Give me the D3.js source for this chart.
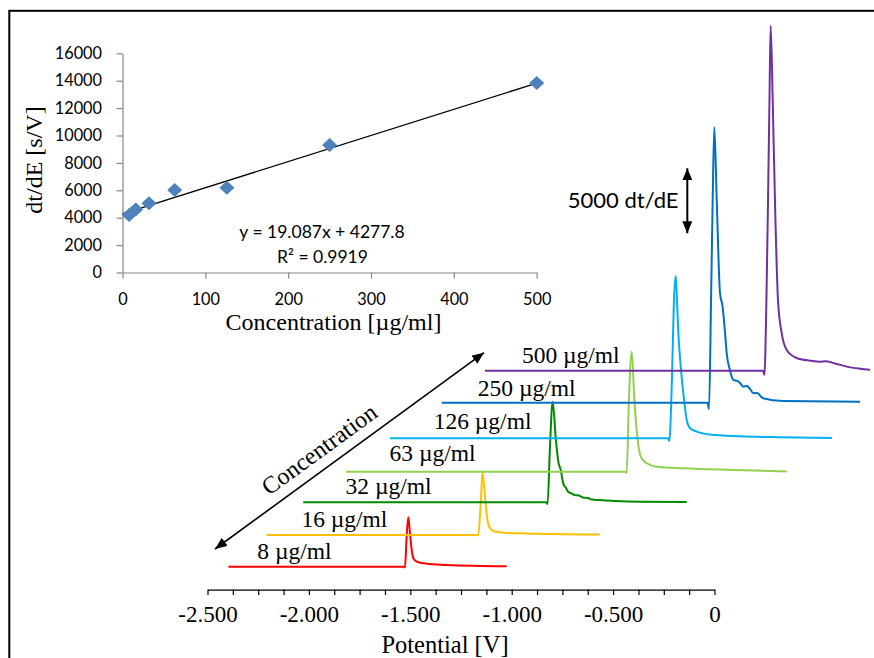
<!DOCTYPE html>
<html>
<head>
<meta charset="utf-8">
<script src="https://cdn.jsdelivr.net/npm/d3@7/dist/d3.min.js"></script>
<style>
  html, body { margin: 0; padding: 0; background: #fff; }
  svg { display: block; }
</style>
</head>
<body>
<svg id="chart" width="874" height="658"></svg>
<script>
// ---------------- DATA ----------------
// Inset: calibration
const concentrations = [8, 16, 32, 63, 126, 250, 500];
const calibValues = [4200, 4600, 5050, 6020, 6190, 9300, 13830];
const trendSlope = 19.087;
const trendIntercept = 4277.8;
const trendRange = [0, 500];
const insetXTicks = [0, 100, 200, 300, 400, 500];
const insetYTicks = [0, 2000, 4000, 6000, 8000, 10000, 12000, 14000, 16000];
const equationText = "y = 19.087x + 4277.8";
const r2Text = "R\u00B2 = 0.9919";

// Main: voltammograms (waterfall)
const traceNames = ["8 \u00B5g/ml", "16 \u00B5g/ml", "32 \u00B5g/ml", "63 \u00B5g/ml", "126 \u00B5g/ml", "250 \u00B5g/ml", "500 \u00B5g/ml"];
const traceColors = ["#FF0000", "#FFC000", "#008A00", "#92D050", "#00B0F0", "#0070C0", "#7030A0"];
// vertical waterfall offsets of each baseline, in dt/dE units
const traceOffsets = [0, 2440, 4950, 7310, 9880, 12620, 15080];
// [potential (V), dt/dE above own baseline]
const trace8 = [[-2.397,0],[-1.531,0],[-1.526,-60],[-1.519,2050],[-1.510,3800],[-1.503,2820],[-1.493,1285],[-1.485,646],[-1.468,385],[-1.436,260],[-1.320,130],[-1.025,30]];
const trace16 = [[-2.208,0],[-1.169,0],[-1.165,-50],[-1.152,2690],[-1.144,4820],[-1.133,3210],[-1.124,1670],[-1.111,640],[-1.091,310],[-1.042,180],[-0.926,115],[-0.565,40]];
const trace32 = [[-2.028,0],[-0.831,0],[-0.823,-130],[-0.812,4020],[-0.798,7740],[-0.782,4790],[-0.770,3120],[-0.758,2485],[-0.746,1460],[-0.732,1100],[-0.721,815],[-0.708,715],[-0.688,562],[-0.668,523],[-0.648,369],[-0.624,331],[-0.604,215],[-0.565,177],[-0.491,100],[-0.367,38],[-0.137,23]];
const trace63 = [[-1.817,0],[-0.441,0],[-0.433,-100],[-0.422,5515],[-0.408,9230],[-0.396,5770],[-0.384,3210],[-0.372,1670],[-0.359,1030],[-0.334,646],[-0.285,385],[-0.154,261],[0.093,131],[0.356,15]];
const trace126 = [[-1.600,0],[-0.229,0],[-0.223,-210],[-0.210,4485],[-0.200,10640],[-0.191,12485],[-0.185,10640],[-0.179,8330],[-0.165,5250],[-0.150,2950],[-0.137,1410],[-0.121,790],[-0.088,510],[-0.022,290],[0.126,155],[0.323,77],[0.579,23]];
const trace250 = [[-1.345,0],[-0.035,0],[-0.027,-485],[-0.017,7900],[-0.009,15590],[-0.001,21200],[0.011,15590],[0.027,8440],[0.040,7385],[0.052,5360],[0.060,3820],[0.076,2515],[0.093,1745],[0.111,1670],[0.126,1515],[0.141,1230],[0.160,1285],[0.175,1055],[0.191,725],[0.210,745],[0.239,340],[0.338,130],[0.718,77]];
const trace500 = [[-1.132,0],[0.239,0],[0.246,-330],[0.256,5440],[0.264,13130],[0.271,20820],[0.277,26540],[0.287,20820],[0.298,13130],[0.313,5440],[0.331,2900],[0.356,1590],[0.405,975],[0.471,770],[0.520,690],[0.545,720],[0.594,555],[0.652,310],[0.718,155],[0.767,77]];
const traceData = [trace8, trace16, trace32, trace63, trace126, trace250, trace500];

const potentialTickValues = d3.range(0, 21).map(i => -2.5 + i * 0.125);
const potentialLabelValues = [-2.5, -2.0, -1.5, -1.0, -0.5, 0];
const potentialLabels = ["-2.500", "-2.000", "-1.500", "-1.000", "-0.500", "0"];
const scaleBarValue = 5000;

// ---------------- DRAW ----------------
const svg = d3.select("#chart");
const SERIF = "'Liberation Serif', 'Times New Roman', serif";
const SANS = "Lato, 'Open Sans', sans-serif";

// outer frame
svg.append("rect").attr("x", 9.3).attr("y", 10.8).attr("width", 950).attr("height", 750)
  .attr("fill", "none").attr("stroke", "#000").attr("stroke-width", 2);

// ---- Inset ----
const ix = d3.scaleLinear().domain([0, 500]).range([122.5, 536.7]);
const iy = d3.scaleLinear().domain([0, 16000]).range([272.5, 53.3]);

const gx = svg.append("g").attr("transform", `translate(0,${iy(0)})`)
  .call(d3.axisBottom(ix).tickValues(insetXTicks).tickSize(6).tickSizeOuter(0).tickPadding(15).tickFormat(d3.format("d")));
const gy = svg.append("g").attr("transform", `translate(${ix(0)},0)`)
  .call(d3.axisLeft(iy).tickValues(insetYTicks).tickSize(6).tickSizeOuter(0).tickPadding(14.5).tickFormat(d3.format("d")));
[gx, gy].forEach(g => {
  g.select(".domain").attr("stroke", "#878787").attr("stroke-width", 1.2);
  g.selectAll(".tick line").attr("stroke", "#878787").attr("stroke-width", 1.2);
  g.selectAll(".tick text").attr("font-family", SANS).attr("font-size", 16.3).attr("fill", "#000");
});

// trendline
svg.append("line")
  .attr("x1", ix(trendRange[0])).attr("y1", iy(trendSlope * trendRange[0] + trendIntercept))
  .attr("x2", ix(trendRange[1])).attr("y2", iy(trendSlope * trendRange[1] + trendIntercept))
  .attr("stroke", "#000").attr("stroke-width", 1.3);

// diamonds
svg.append("g").selectAll("path").data(concentrations).join("path")
  .attr("transform", (d, i) => `translate(${ix(d)},${iy(calibValues[i])})`)
  .attr("d", "M0,-7 L7.5,0 L0,7 L-7.5,0 Z")
  .attr("fill", "#4F81BD");

svg.append("text").attr("x", 322).attr("y", 237.5).attr("text-anchor", "middle")
  .attr("font-family", SANS).attr("font-size", 17.5).text(equationText);
svg.append("text").attr("x", 322.5).attr("y", 262.5).attr("text-anchor", "middle")
  .attr("font-family", SANS).attr("font-size", 17.5).text(r2Text);

svg.append("text").attr("x", 333.5).attr("y", 330).attr("text-anchor", "middle")
  .attr("font-family", SERIF).attr("font-size", 24).text("Concentration [\u00B5g/ml]");
svg.append("text").attr("transform", "translate(42,160) rotate(-90)").attr("text-anchor", "middle")
  .attr("font-family", SERIF).attr("font-size", 24).text("dt/dE [s/V]");

// ---- Main waterfall ----
const px = d3.scaleLinear().domain([-2.5, 0]).range([207.5, 714.5]);
const py = d3.scaleLinear().domain([0, 5000]).range([566.7, 501.7]);

const line = d3.line().curve(d3.curveMonotoneX);
traceData.forEach((pts, i) => {
  svg.append("path")
    .attr("d", line(pts.map(p => [px(p[0]), py(traceOffsets[i] + p[1])])))
    .attr("fill", "none").attr("stroke", traceColors[i]).attr("stroke-width", 2)
    .attr("stroke-linejoin", "round");
});

// labels on a regular diagonal
traceNames.forEach((name, i) => {
  svg.append("text").attr("x", 257.3 + i * 44.1).attr("y", 559.3 - i * 32.67)
    .attr("font-family", SERIF).attr("font-size", 23.5).attr("fill", "#000").text(name);
});

// potential axis
const labelMap = new Map(potentialLabelValues.map((v, i) => [v.toFixed(3), potentialLabels[i]]));
const ga = svg.append("g").attr("transform", "translate(0,589.6)")
  .call(d3.axisBottom(px).tickValues(potentialTickValues).tickSize(5.5).tickSizeOuter(0).tickPadding(10.5)
    .tickFormat(d => labelMap.get(d.toFixed(3)) || ""));
ga.select(".domain").attr("stroke", "#000").attr("stroke-width", 1.2);
ga.selectAll(".tick line").attr("stroke", "#000").attr("stroke-width", 1.2);
ga.selectAll(".tick text").attr("font-family", SERIF).attr("font-size", 23).attr("fill", "#000");

svg.append("text").attr("x", 445).attr("y", 653).attr("text-anchor", "middle")
  .attr("font-family", SERIF).attr("font-size", 24.5).text("Potential [V]");

// arrowhead marker
const defs = svg.append("defs");
defs.append("marker").attr("id", "ah").attr("viewBox", "0 0 12 10").attr("refX", 12).attr("refY", 5)
  .attr("markerWidth", 12).attr("markerHeight", 10).attr("markerUnits", "userSpaceOnUse").attr("orient", "auto-start-reverse")
  .append("path").attr("d", "M0,0 L12,5 L0,10 Z").attr("fill", "#000");

// Concentration diagonal arrow
const a0 = [215, 549], a1 = [484, 352.7];
svg.append("line").attr("x1", a0[0]).attr("y1", a0[1]).attr("x2", a1[0]).attr("y2", a1[1])
  .attr("stroke", "#000").attr("stroke-width", 1.6)
  .attr("marker-start", "url(#ah)").attr("marker-end", "url(#ah)");
{
  const dx = a1[0] - a0[0], dy = a1[1] - a0[1], L = Math.hypot(dx, dy);
  const ux = dx / L, uy = dy / L;
  const along = 143, off = 11;
  const tx = a0[0] + ux * along + uy * off, ty = a0[1] + uy * along - ux * off;
  const ang = Math.atan2(dy, dx) * 180 / Math.PI;
  svg.append("text").attr("transform", `translate(${tx},${ty}) rotate(${ang})`).attr("text-anchor", "middle")
    .attr("font-family", SERIF).attr("font-size", 24).text("Concentration");
}

// 5000 dt/dE scale bar
const barLen = py(0) - py(scaleBarValue);
const barCx = 687.3, barCy = 200.8;
svg.append("line").attr("x1", barCx).attr("y1", barCy + barLen / 2).attr("x2", barCx).attr("y2", barCy - barLen / 2)
  .attr("stroke", "#000").attr("stroke-width", 2)
  .attr("marker-start", "url(#ah)").attr("marker-end", "url(#ah)");
svg.append("text").attr("x", 678.5).attr("y", 208.3).attr("text-anchor", "end")
  .attr("font-family", SANS).attr("font-size", 22).text(scaleBarValue + " dt/dE");
</script>
</body>
</html>
